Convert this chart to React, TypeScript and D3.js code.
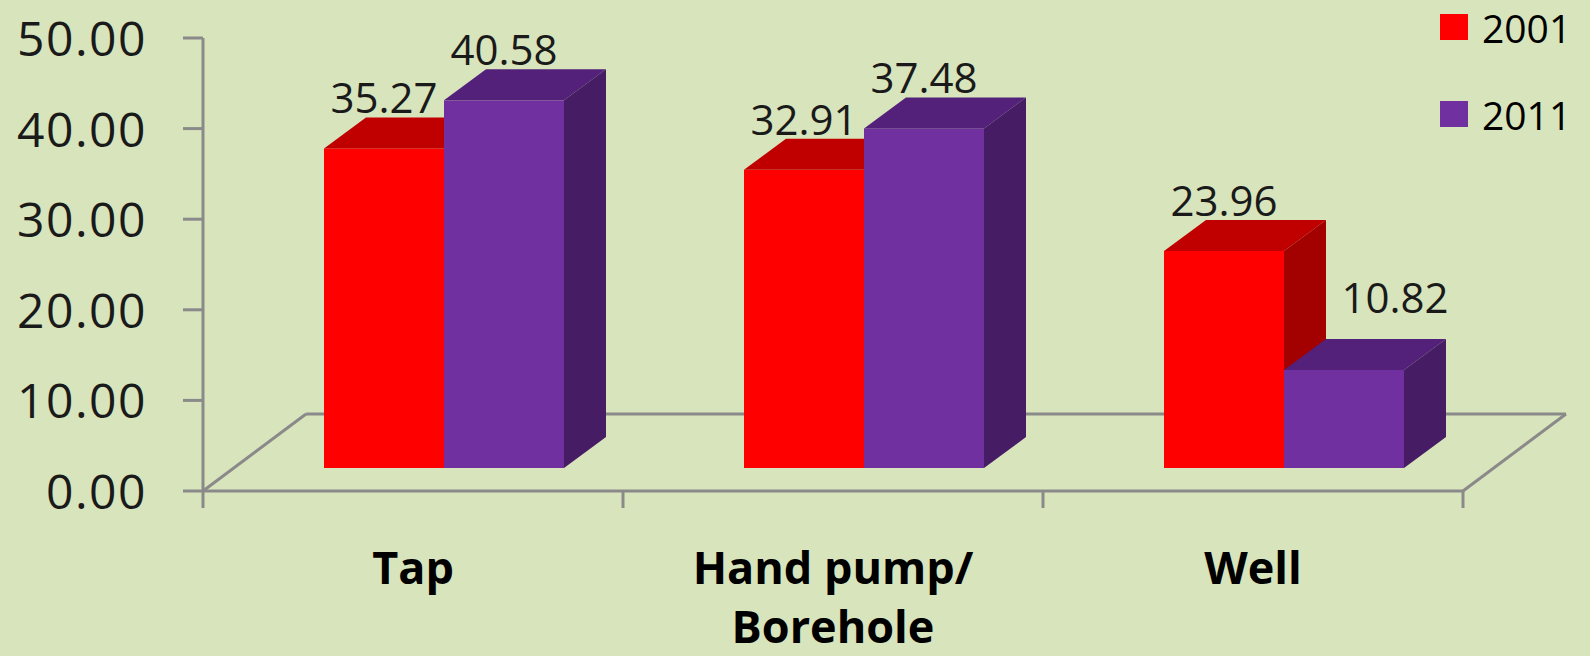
import React from "react";
import * as d3 from "d3";

const categories = ["Tap", "Hand pump/\nBorehole", "Well"];
const seriesNames = ["2001", "2011"];
const values2001 = [35.27, 32.91, 23.96];
const values2011 = [40.58, 37.48, 10.82];
const yTicks = [0, 10, 20, 30, 40, 50];

// style only: label nudges (dx, dy) per series/category
const labelNudge2001 = [[0, 0], [0, 0], [0, 0]];
const labelNudge2011 = [[0, 0], [0, 0], [51, -22]];

const W = 1590;
const H = 656;
const FONT = "'Open Sans', 'Noto Sans', sans-serif";
const BG = "#D8E4BC";
const GRID = "#8A8A8A";

const frontColors = ["#FF0000", "#7030A0"];
const topColors = ["#C00000", "#53207A"];
const sideColors = ["#A30000", "#461C64"];

// 3D geometry
const floorDx = 103;
const floorDy = 77;
const barOffX = 31;
const barOffY = 23;
const barDx = 42;
const barDy = 31;

export default function App() {
  const y = d3.scaleLinear().domain([0, 50]).range([491, 38]);
  const x = d3.scaleBand().domain(categories).range([203, 1463]).padding(0);
  const xs = d3.scaleBand().domain(seriesNames).range([90, 330]).padding(0);
  const data = [values2001, values2011];
  const nudges = [labelNudge2001, labelNudge2011];
  const x0 = 203;
  const x1 = 1463;
  const yBase = y(0);
  const barBase = yBase - barOffY;

  const bars: React.ReactNode[] = [];
  const labels: React.ReactNode[] = [];
  categories.forEach((c, ci) => {
    seriesNames.forEach((s, si) => {
      const v = data[si][ci];
      const left = (x(c) as number) + (xs(s) as number) + barOffX;
      const w = xs.bandwidth();
      const h = yBase - y(v);
      const top = barBase - h;
      const right = left + w;
      bars.push(
        <g key={`${ci}-${si}`}>
          <rect x={left} y={top} width={w} height={h} fill={frontColors[si]} />
          <polygon
            points={`${left},${top} ${left + barDx},${top - barDy} ${right + barDx},${top - barDy} ${right},${top}`}
            fill={topColors[si]}
          />
          <polygon
            points={`${right},${top} ${right + barDx},${top - barDy} ${right + barDx},${barBase - barDy} ${right},${barBase}`}
            fill={sideColors[si]}
          />
        </g>
      );
      const [ndx, ndy] = nudges[si][ci];
      labels.push(
        <text
          key={`l-${ci}-${si}`}
          x={left + w / 2 + ndx}
          y={top - barDy - 4 + ndy}
          textAnchor="middle"
          fontFamily={FONT}
          fontSize={42}
          fill="#1a1a1a"
        >
          {v.toFixed(2)}
        </text>
      );
    });
  });

  return (
    <svg width={W} height={H} style={{ display: "block", position: "absolute", left: 0, top: 0 }}>
      <rect x={0} y={0} width={W} height={H} fill={BG} />
      {/* floor */}
      <g stroke={GRID} strokeWidth={3} fill="none">
        <line x1={x0 + floorDx} y1={yBase - floorDy} x2={x1 + floorDx} y2={yBase - floorDy} />
        <line x1={x0} y1={yBase} x2={x0 + floorDx} y2={yBase - floorDy} />
        <line x1={x1} y1={yBase} x2={x1 + floorDx} y2={yBase - floorDy} />
        <line x1={x0} y1={yBase} x2={x1} y2={yBase} />
        <line x1={x0} y1={y(50)} x2={x0} y2={yBase} />
        {yTicks.map((t) => (
          <line key={t} x1={x0 - 20} y1={y(t)} x2={x0} y2={y(t)} />
        ))}
        {[...categories.map((c) => x(c) as number), x1].map((cx, i) => (
          <line key={i} x1={cx} y1={yBase} x2={cx} y2={yBase + 17} />
        ))}
      </g>
      {bars}
      {labels}
      {/* y tick labels */}
      {yTicks.map((t) => (
        <text
          key={t}
          x={147}
          y={y(t) + 18}
          textAnchor="end"
          fontFamily={FONT}
          fontSize={48}
          letterSpacing={1.5}
          fill="#1a1a1a"
        >
          {t.toFixed(2)}
        </text>
      ))}
      {/* category labels */}
      {categories.map((c) => (
        <text
          key={c}
          x={(x(c) as number) + x.bandwidth() / 2}
          y={584}
          textAnchor="middle"
          fontFamily={FONT}
          fontWeight="bold"
          fontSize={45}
          fill="#000"
        >
          {c.split("\n").map((line, i) => (
            <tspan key={i} x={(x(c) as number) + x.bandwidth() / 2} dy={i === 0 ? 0 : 59}>
              {line}
            </tspan>
          ))}
        </text>
      ))}
      {/* legend */}
      {seriesNames.map((s, i) => (
        <g key={s} transform={`translate(1440, ${14 + i * 87})`}>
          <rect x={0} y={0} width={28} height={26} fill={frontColors[i]} />
          <text x={42} y={29} fontFamily={FONT} fontSize={39} fill="#000">
            {s}
          </text>
        </g>
      ))}
    </svg>
  );
}
